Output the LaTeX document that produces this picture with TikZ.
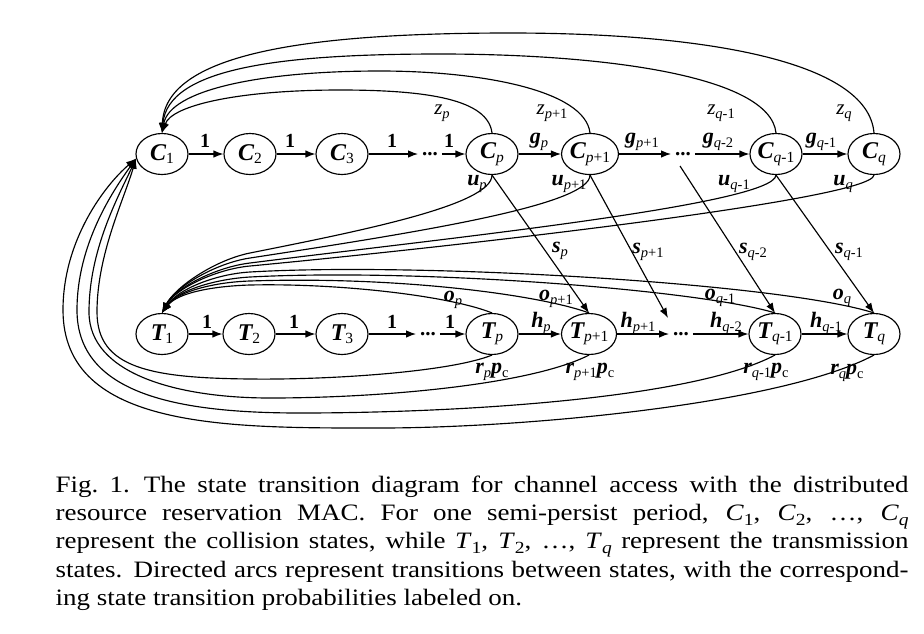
\documentclass[tikz,border=0pt]{standalone}
\usepackage{fontspec}
\setmainfont{Liberation Serif}
\newfontfamily\capfont[FakeStretch=1.149]{Liberation Serif}
\usetikzlibrary{arrows.meta,shapes.geometric}
\newcommand\sbx[1]{\raisebox{-4pt}{\fontsize{14.5}{14.5}\selectfont\mdseries\upshape #1}}
\newcommand\nsb[1]{\raisebox{-3.5pt}{\fontsize{15.5}{15.5}\selectfont\mdseries\upshape #1}}
\newcommand\csb[1]{\raisebox{-5pt}{\fontsize{17}{17}\selectfont #1}}
\newcommand\ip{\textit{p}}
\newcommand\iq{\textit{q}}
\tikzset{
 st/.style={draw, ellipse, minimum width=52pt, minimum height=41pt, inner sep=0pt, font=\fontsize{24}{24}\selectfont\bfseries\itshape},
 lbl/.style={inner sep=0pt, font=\fontsize{22}{22}\selectfont\bfseries\itshape},
 zlbl/.style={inner sep=0pt, font=\fontsize{21}{21}\selectfont\itshape},
 onel/.style={inner sep=0pt, font=\fontsize{20}{20}\selectfont\bfseries},
 dotn/.style={inner xsep=3.5pt, inner ysep=1pt, font=\fontsize{21}{21}\selectfont\bfseries},
 ar/.style={-{Latex[length=10pt,width=7.5pt]}},
}
\begin{document}
\begin{tikzpicture}[x=1pt,y=-1pt,line width=1.15pt]
\useasboundingbox (0,0) rectangle (924,633);
% top row
\node[st] (C1) at (162,154) {C\nsb{1}};
\node[st] (C2) at (250,154) {C\nsb{2}};
\node[st] (C3) at (342,154) {C\nsb{3}};
\node[dotn] (dC1) at (430,154) {...};
\node[st] (Cp) at (492,154) {C\nsb{\ip}};
\node[st] (Cp1) at (590,154) {C\nsb{\ip+1}};
\node[dotn] (dC2) at (683,154) {...};
\node[st] (Cq1) at (776,154) {C\nsb{\iq-1}};
\node[st] (Cq) at (874,154) {C\nsb{\iq}};
% bottom row
\node[st] (T1) at (162,334) {T\nsb{1}};
\node[st] (T2) at (249,334) {T\nsb{2}};
\node[st] (T3) at (342,334) {T\nsb{3}};
\node[dotn] (dT1) at (428,334) {...};
\node[st] (Tp) at (492,334) {T\nsb{\ip}};
\node[st] (Tp1) at (589,334) {T\nsb{\ip+1}};
\node[dotn] (dT2) at (681,334) {...};
\node[st] (Tq1) at (775,334) {T\nsb{\iq-1}};
\node[st] (Tq) at (874,334) {T\nsb{\iq}};
\coordinate (sE) at (668,318);
\coordinate (sS) at (680,166);
% straight chains
\draw[ar] (C1) -- (C2);
\draw[ar] (C2) -- (C3);
\draw[ar] (C3) -- (dC1);
\draw[ar] (dC1) -- (Cp);
\draw[ar] (Cp) -- (Cp1);
\draw[ar] (Cp1) -- (dC2);
\draw[ar] (dC2) -- (Cq1);
\draw[ar] (Cq1) -- (Cq);
\draw[ar] (T1) -- (T2);
\draw[ar] (T2) -- (T3);
\draw[ar] (T3) -- (dT1);
\draw[ar] (dT1) -- (Tp);
\draw[ar] (Tp) -- (Tp1);
\draw[ar] (Tp1) -- (dT2);
\draw[ar] (dT2) -- (Tq1);
\draw[ar] (Tq1) -- (Tq);
% z arcs
\draw[ar] (Cp.north) .. controls (488,100) and (430,90) .. (340,90) .. controls (240,90) and (172,105) .. (C1.north);
\draw[ar] (Cp1.north) .. controls (585,90) and (480,71) .. (380,71) .. controls (260,71) and (170,90) .. (C1.north);
\draw[ar] (Cq1.north) .. controls (770,75) and (600,54) .. (440,54) .. controls (280,54) and (168,68) .. (C1.north);
\draw[ar] (Cq.north) .. controls (868,60) and (700,33) .. (510,33) .. controls (300,33) and (165,55) .. (C1.north);
% u arcs
\draw[ar] (Cp.south) .. controls (492,205) and (360,231) .. (250,253) .. controls (215,260) and (175,287) .. (T1.north);
\draw[ar] (Cp1.south) .. controls (590,205) and (420,232) .. (250,258) .. controls (216,263) and (175,287) .. (T1.north);
\draw[ar] (Cq1.south) .. controls (775,205) and (430,240) .. (250,263) .. controls (216,267) and (175,288) .. (T1.north);
\draw[ar] (Cq.south) .. controls (872,200) and (440,248) .. (250,266) .. controls (216,269) and (175,289) .. (T1.north);
% o arcs
\draw[ar] (Tq.north) .. controls (780,283) and (420,262) .. (250,272) .. controls (216,274) and (178,289) .. (T1.north);
\draw[ar] (Tq1.north) .. controls (700,290) and (420,268) .. (250,277) .. controls (216,279) and (178,290) .. (T1.north);
\draw[ar] (Tp1.north) .. controls (540,295) and (400,276) .. (250,281) .. controls (216,282) and (178,291) .. (T1.north);
\draw[ar] (Tp.north) .. controls (450,296) and (340,283) .. (250,285) .. controls (216,286) and (178,292) .. (T1.north);
% s arrows
\draw[ar] (Cp.south) -- (Tp1.north);
\draw[ar] (Cp1.south) -- (sE);
\draw[ar] (sS) -- (Tq1.north);
\draw[ar] (Cq1.south) -- (Tq.north);
% r arcs
\draw[ar] (Tq.south) .. controls (780,405) and (520,428) .. (380,428) .. controls (230,428) and (63,430) .. (63,310) .. controls (63,240) and (105,185) .. (C1.190);
\draw[ar] (Tq1.south) .. controls (690,400) and (450,413) .. (300,413) .. controls (180,413) and (77,395) .. (77,310) .. controls (77,245) and (112,192) .. (C1.190);
\draw[ar] (Tp1.south) .. controls (530,385) and (380,398) .. (270,398) .. controls (180,398) and (89,375) .. (89,312) .. controls (89,250) and (118,197) .. (C1.190);
\draw[ar] (Tp.south) .. controls (450,372) and (330,380) .. (250,379) .. controls (150,378) and (97,368) .. (97,312) .. controls (97,255) and (123,202) .. (C1.190);
% labels top row
\node[onel] (a1) at (205,141) {1};
\node[onel] (a2) at (290,141) {1};
\node[onel] (a3) at (392,141) {1};
\node[onel] (a4) at (449,141) {1};
\node[lbl] (ag1) at (539,142) {g\sbx{\ip}};
\node[lbl] (ag2) at (642,142) {g\sbx{\ip+1}};
\node[lbl] (ag3) at (718,142) {g\sbx{\iq-2}};
\node[lbl] (ag4) at (821,142) {g\sbx{\iq-1}};
% labels bottom row
\node[onel] (b1) at (207,322) {1};
\node[onel] (b2) at (294,322) {1};
\node[onel] (b3) at (392,322) {1};
\node[onel] (b4) at (450,322) {1};
\node[lbl] (bh1) at (541,323) {h\sbx{\ip}};
\node[lbl] (bh2) at (638,323) {h\sbx{\ip+1}};
\node[lbl] (bh3) at (726,323) {h\sbx{\iq-2}};
\node[lbl] (bh4) at (826,323) {h\sbx{\iq-1}};
% z labels
\node[zlbl] (lz1) at (442,113) {z\sbx{\ip}};
\node[zlbl] (lz2) at (552,113) {z\sbx{\ip+1}};
\node[zlbl] (lz3) at (721,113) {z\sbx{\iq-1}};
\node[zlbl] (lz4) at (844,113) {z\sbx{\iq}};
% u labels
\node[lbl] (lu1) at (477,184) {u\sbx{\ip}};
\node[lbl] (lu2) at (569,184) {u\sbx{\ip+1}};
\node[lbl] (lu3) at (734,184) {u\sbx{\iq-1}};
\node[lbl] (lu4) at (843,184) {u\sbx{\iq}};
% s labels
\node[lbl] (ls1) at (560,251) {s\sbx{\ip}};
\node[lbl] (ls2) at (648,252) {s\sbx{\ip+1}};
\node[lbl] (ls3) at (753,252) {s\sbx{\iq-2}};
\node[lbl] (ls4) at (849,252) {s\sbx{\iq-1}};
% o labels
\node[lbl] (lo1) at (453,300) {o\sbx{\ip}};
\node[lbl] (lo2) at (556,299) {o\sbx{\ip+1}};
\node[lbl] (lo3) at (720,298) {o\sbx{\iq-1}};
\node[lbl] (lo4) at (842,298) {o\sbx{\iq}};
% r labels
\node[lbl] (lr1) at (492,372) {r\sbx{\ip}p\sbx{c}};
\node[lbl] (lr2) at (590,372) {r\sbx{\ip+1}p\sbx{c}};
\node[lbl] (lr3) at (766,372) {r\sbx{\iq-1}p\sbx{c}};
\node[lbl] (lr4) at (847,373) {r\sbx{\iq}p\sbx{c}};
% caption
\node[anchor=base west, inner sep=0pt] (cap) at (55,492) {\parbox[t]{853pt}{\capfont\fontsize{23.5}{28.4}\selectfont
Fig.~1.\hspace{0.6em}The state transition diagram for channel access with the distributed\linebreak
resource reservation MAC. For one semi-persist period, \textit{C}\csb{1}, \textit{C}\csb{2}, \dots, \textit{C}\csb{\textit{q}}\linebreak
represent the collision states, while \textit{T}\csb{1}, \textit{T}\csb{2}, \dots, \textit{T}\csb{\textit{q}} represent the transmission\linebreak
states. Directed arcs represent transitions between states, with the correspond-\linebreak
ing state transition probabilities labeled on.}};
\end{tikzpicture}
\end{document}
